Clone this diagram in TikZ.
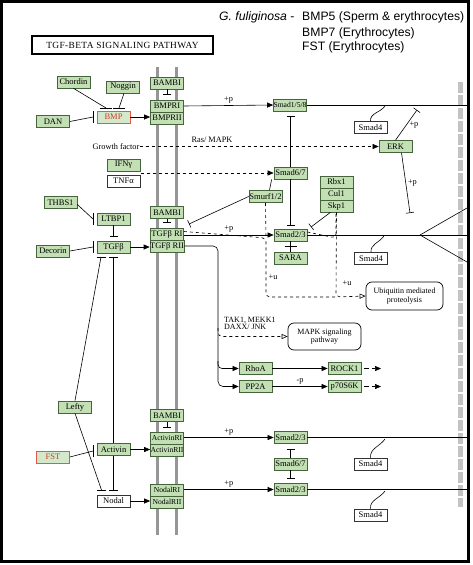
\documentclass[tikz,border=0pt]{standalone}
\usepackage{fontspec}
\usetikzlibrary{arrows.meta}
\newfontfamily\kfont{Liberation Serif}
\newfontfamily\lgfont{Liberation Sans}
\newfontfamily\ttlfont[LetterSpace=4]{Liberation Serif}
\definecolor{gfill}{RGB}{194,224,180}
\definecolor{gborder}{RGB}{70,100,60}
\definecolor{redb}{RGB}{225,90,70}
\definecolor{redt}{RGB}{210,60,40}
\definecolor{memb}{RGB}{150,150,150}
\definecolor{edgebar}{RGB}{195,195,195}
\tikzset{
  gbox/.style={draw=gborder, fill=gfill, minimum width=33pt, minimum height=12pt, inner sep=0pt, line width=0.7pt, font=\kfont\fontsize{8.5}{9}\selectfont},
  nbox/.style={gbox, font=\kfont\fontsize{7.6}{8}\selectfont},
  wbox/.style={gbox, fill=white, draw=black!80},
  rbox/.style={gbox, draw=redb, text=redt, fill=gfill!70!white},
  rndbox/.style={draw, rounded corners=6pt, inner sep=1pt, align=center, line width=0.7pt, font=\kfont\fontsize{8}{8.5}\selectfont},
  lbl/.style={font=\kfont\fontsize{8.3}{9}\selectfont, inner sep=0pt},
  act/.style={-{Triangle[length=6pt,width=5pt]}, line width=0.6pt},
  actopen/.style={-{Triangle[open,length=6pt,width=5pt]}, line width=0.6pt, dashed},
  inh/.style={-{Bar[width=8pt]}, line width=0.6pt},
  ln/.style={line width=0.6pt},
  bar/.style={line width=0.6pt},
  lgd/.style={anchor=west, inner sep=0pt, font=\lgfont\fontsize{12.2}{13}\selectfont}
}
\begin{document}
\begin{tikzpicture}[x=1pt,y=-1pt]
\useasboundingbox (0,0) rectangle (472,565);
\fill[white] (0,0) rectangle (472,565);
% frame
\draw[line width=3pt] (1.5,1.5) rectangle (468.5,561.5);
% title
\node[draw, line width=1.2pt, minimum width=181pt, minimum height=18pt, inner sep=0pt, font=\ttlfont\fontsize{9.4}{10}\selectfont] (title) at (122.5,45) {TGF-BETA SIGNALING PATHWAY};
% legend
\node[lgd] (lg0) at (219,17) {\textit{G. fuliginosa} -};
\node[lgd] (lg1) at (302,17) {BMP5 (Sperm \& erythrocytes)};
\node[lgd] (lg2) at (302,33) {BMP7 (Erythrocytes)};
\node[lgd] (lg3) at (302,47.5) {FST (Erythrocytes)};
% membranes
\draw[memb, line width=3pt] (157,67) -- (157,535);
\draw[memb, line width=3pt] (176,67) -- (176,535);
% right edge bar
\draw[edgebar, line width=5pt, dash pattern=on 11pt off 2pt] (460,82) -- (460,507);

% ---- nodes ----
\node[gbox] (BAMBI1) at (167,83) {BAMBI};
\node[gbox] (BMPRI) at (167,106) {BMPRI};
\node[gbox] (BMPRII) at (167,118) {BMPRII};
\node[gbox] (Chordin) at (73.5,82) {Chordin};
\node[gbox] (Noggin) at (123,87) {Noggin};
\node[rbox] (BMP) at (113.5,117) {BMP};
\node[gbox] (DAN) at (53,121.5) {DAN};
\node[nbox] (Smad158) at (290,105) {Smad1/5/8};
\node[wbox] (Smad4a) at (370.5,127.5) {Smad4};
\node[gbox] (ERK) at (395.5,146.5) {ERK};
\node[gbox] (IFNg) at (123.5,165) {IFNγ};
\node[wbox] (TNFa) at (123.5,181) {TNFα};
\node[gbox] (Smad67a) at (290.5,173) {Smad6/7};
\node[gbox] (Smurf) at (265.5,196.5) {Smurf1/2};
\node[gbox] (Rbx1) at (336.5,182) {Rbx1};
\node[gbox] (Cul1) at (336.5,194) {Cul1};
\node[gbox] (Skp1) at (336.5,206) {Skp1};
\node[gbox] (BAMBI2) at (167,212.5) {BAMBI};
\node[gbox] (TGFbRI) at (167,234.5) {TGFβ RI};
\node[gbox] (TGFbRII) at (167,246) {TGFβ RII};
\node[gbox] (Smad23a) at (290.5,235) {Smad2/3};
\node[gbox] (SARA) at (290.5,258) {SARA};
\node[wbox] (Smad4b) at (371,258.5) {Smad4};
\node[gbox] (THBS1) at (60.5,202.5) {THBS1};
\node[gbox] (LTBP1) at (113.5,219) {LTBP1};
\node[gbox] (TGFb) at (113.5,247) {TGFβ};
\node[gbox] (Decorin) at (53,251) {Decorin};
\node[rndbox, minimum width=77pt, minimum height=28pt] (Ubiq) at (404.5,296) {Ubiquitin mediated\\proteolysis};
\node[rndbox, minimum width=73pt, minimum height=27pt] (MAPK) at (324.5,336.5) {MAPK signaling\\pathway};
\node[gbox] (RhoA) at (255.5,368.5) {RhoA};
\node[gbox] (PP2A) at (255.5,386.5) {PP2A};
\node[gbox] (ROCK1) at (344.5,368.5) {ROCK1};
\node[gbox] (p70S6K) at (344.5,386.5) {p70S6K};
\node[gbox] (Lefty) at (75,407) {Lefty};
\node[rbox] (FST) at (53,457) {FST};
\node[gbox] (Activin) at (113.5,449.5) {Activin};
\node[gbox] (BAMBI3) at (167,415.5) {BAMBI};
\node[nbox] (ActRI) at (167,438) {ActivinRI};
\node[nbox] (ActRII) at (167,450) {ActivinRII};
\node[nbox] (NodalRI) at (167,490) {NodalRI};
\node[nbox] (NodalRII) at (167,502) {NodalRII};
\node[wbox] (Nodal) at (113.5,501) {Nodal};
\node[gbox] (Smad23b) at (290.5,437.5) {Smad2/3};
\node[gbox] (Smad67b) at (290.5,464) {Smad6/7};
\node[gbox] (Smad23c) at (290.5,489.5) {Smad2/3};
\node[wbox] (Smad4c) at (370.5,464) {Smad4};
\node[wbox] (Smad4d) at (370.5,515) {Smad4};

% labels
\node[lbl] (gf) at (116,146.5) {Growth factor};
\node[lbl] (ras) at (212,140) {Ras/ MAPK};
\node[lbl, align=left, anchor=west, font=\kfont\fontsize{8}{7.2}\selectfont] (tak) at (224,323.5) {TAK1, MEKK1\\DAXX/ JNK};

% ---- coordinates ----
\coordinate (cChB) at (106,108);
\coordinate (cNoB) at (119,108);
\coordinate (cDaB) at (93,117);
\coordinate (tB1) at (167,95);
\coordinate (tB2) at (167,223);
\coordinate (tB3) at (167,428);
\coordinate (e1) at (467,105);
\coordinate (s4a) at (385,106);
\coordinate (erkT1) at (417,110);
\coordinate (erkT2) at (410,213);
\coordinate (t158) at (290.5,116);
\coordinate (t23a) at (290.5,226);
\coordinate (ifn) at (140.5,173);
\coordinate (smT) at (189,224);
\coordinate (skT) at (311,227);
\coordinate (apex) at (420,235);
\coordinate (e2) at (467,235);
\coordinate (e2u) at (467,208);
\coordinate (e2d) at (467,262);
\coordinate (s4b) at (384,236);
\coordinate (dj1) at (266,238);
\coordinate (dj2) at (266,297);
\coordinate (dk1) at (336,238);
\coordinate (dk2) at (336,297);
\coordinate (cThB) at (93,219);
\coordinate (cDeB) at (93,247);
\coordinate (cLtB) at (113.5,237);
\coordinate (tgL) at (101,257);
\coordinate (tgR) at (113.5,257);
\coordinate (noL) at (101.5,490);
\coordinate (noR) at (113.5,490);
\coordinate (cFsB) at (93,451);
\coordinate (vt1) at (218,246);
\coordinate (vt2) at (218,386.5);
\coordinate (vtk) at (218,328);
\coordinate (vtk2) at (218,336.5);
\coordinate (vtr) at (218,361);
\coordinate (vtr2) at (218,368.5);
\coordinate (r1) at (364,368.5);
\coordinate (r2) at (381,368.5);
\coordinate (p1) at (364,386.5);
\coordinate (p2) at (381,386.5);
\coordinate (e3) at (467,437.5);
\coordinate (e4) at (467,489.5);
\coordinate (t67u) at (290.5,449);
\coordinate (t67d) at (290.5,479);
\coordinate (s4c) at (385,439);
\coordinate (s4d) at (385,491);

% ---- BMP part ----
\draw[ln] (Chordin.south) -- (cChB);
\draw[bar] ([xshift=-6pt]cChB) -- ([xshift=6pt]cChB);
\draw[ln] ([xshift=1pt]Noggin.south) -- (cNoB);
\draw[bar] ([xshift=-6pt]cNoB) -- ([xshift=6pt]cNoB);
\draw[ln] (DAN.east) -- (cDaB);
\draw[bar] ([yshift=-6pt]cDaB) -- ([yshift=6pt]cDaB);
\draw[act] (BMP.east) -- (BMPRII.west |- BMP.east);
\draw[inh] (BAMBI1.south) -- (tB1);
\draw[act] (BMPRI.east) -- node[lbl, above=2pt] {+p} (Smad158.west);
\draw[ln] (Smad158.east) -- (e1);
\draw[ln] (Smad4a.north) to[out=95,in=-125] (s4a);
\draw[inh] (ERK.north) -- node[lbl, right=3pt] {+p} (erkT1);
\draw[inh] ([xshift=6pt]ERK.south) -- node[lbl, right=2pt] {+p} (erkT2);
\draw[act, dashed] (gf.east) -- (ERK.west);
\draw[act, dashed] (ifn) -- (Smad67a.west);
\draw[inh] (Smad67a.north) -- (t158);
\draw[inh] (Smad67a.south) -- (t23a);
\draw[ln] ([xshift=-2pt]Smad67a.south west) -- ([xshift=4pt]Smurf.north);
\draw[inh] (Smurf.west) -- (smT);
\draw[inh] ([xshift=-6pt]Skp1.south) -- (skT);
% ---- TGF-beta part ----
\draw[inh] (BAMBI2.south) -- (tB2);
\draw[act] (TGFbRI.east |- Smad23a.west) -- node[lbl, above=2pt] {+p} (Smad23a.west);
\draw[ln] (Smad23a.east) -- (e2);
\draw[ln] (apex) -- (e2u);
\draw[ln] (apex) -- (e2d);
\draw[ln] (SARA.north) -- (Smad23a.south);
\draw[bar] (284.5,246.5) -- (296.5,246.5);
\draw[ln] (Smad4b.north) to[out=95,in=-125] (s4b);
\draw[dashed, ln, rounded corners=4pt] ([yshift=3pt]TGFbRI.east) -- (dj1) -- (dj2) -- (dk2);
\draw[dashed, ln] (Smurf.south) -- (dj1);
\draw[dashed, ln, rounded corners=4pt] ([yshift=3pt]Smad23a.east) -- (dk1) -- (dk1 |- Skp1.south);
\draw[actopen, rounded corners=4pt] (Skp1.south) -- (dk2) -- (Ubiq.west);
\node[lbl] (u1) at (273,277) {+u};
\node[lbl] (u2) at (347,283) {+u};
\draw[ln] ([yshift=-2pt]THBS1.east) -- (cThB);
\draw[bar] ([yshift=-6pt]cThB) -- ([yshift=6pt]cThB);
\draw[ln] (Decorin.east) -- (cDeB);
\draw[bar] ([yshift=-6pt]cDeB) -- ([yshift=6pt]cDeB);
\draw[inh] (LTBP1.south) -- (cLtB);
\draw[act] (TGFb.east) -- (TGFbRII.west |- TGFb.east);
\draw[bar] ([xshift=-4.5pt]tgL) -- ([xshift=4.5pt]tgL);
\draw[bar] ([xshift=-4.5pt]tgR) -- ([xshift=4.5pt]tgR);
\draw[ln] (Lefty.north) -- (tgL);
\draw[ln] (Activin.north) -- (tgR);
\draw[ln] (Lefty.south) -- (noL);
\draw[ln] (Activin.south) -- (noR);
\draw[bar] ([xshift=-4.5pt]noL) -- ([xshift=4.5pt]noL);
\draw[bar] ([xshift=-4.5pt]noR) -- ([xshift=4.5pt]noR);
% downstream of TGFbRII
\draw[act, rounded corners=5pt] (TGFbRII.east) -- (vt1) -- (vt2) -- (PP2A.west);
\draw[act, rounded corners=4pt] (vtr) -- (vtr2) -- (RhoA.west);
\draw[actopen, rounded corners=4pt] (vtk) -- (vtk2) -- (MAPK.west);
\draw[act] (RhoA.east) -- (ROCK1.west);
\draw[act] (PP2A.east) -- node[lbl, above=1.5pt] {-p} (p70S6K.west);
\draw[act, dash pattern=on 5pt off 3pt] (r1) -- (r2);
\draw[act, dash pattern=on 5pt off 3pt] (p1) -- (p2);
% ---- Activin / Nodal ----
\draw[inh] (BAMBI3.south) -- (tB3);
\draw[ln] (FST.east) -- (cFsB);
\draw[bar] ([yshift=-6pt]cFsB) -- ([yshift=6pt]cFsB);
\draw[act] (Activin.east) -- (ActRII.west |- Activin.east);
\draw[act] (Nodal.east) -- (NodalRII.west |- Nodal.east);
\draw[act] (ActRI.east |- Smad23b.west) -- node[lbl, above=2pt] {+p} (Smad23b.west);
\draw[act] (NodalRI.east |- Smad23c.west) -- node[lbl, above=2pt] {+p} (Smad23c.west);
\draw[ln] (Smad23b.east) -- (e3);
\draw[ln] (Smad23c.east) -- (e4);
\draw[inh] (Smad67b.north) -- (t67u);
\draw[inh] (Smad67b.south) -- (t67d);
\draw[ln] (Smad4c.north) to[out=95,in=-125] (s4c);
\draw[ln] (Smad4d.north) to[out=95,in=-125] (s4d);
\end{tikzpicture}
\end{document}
